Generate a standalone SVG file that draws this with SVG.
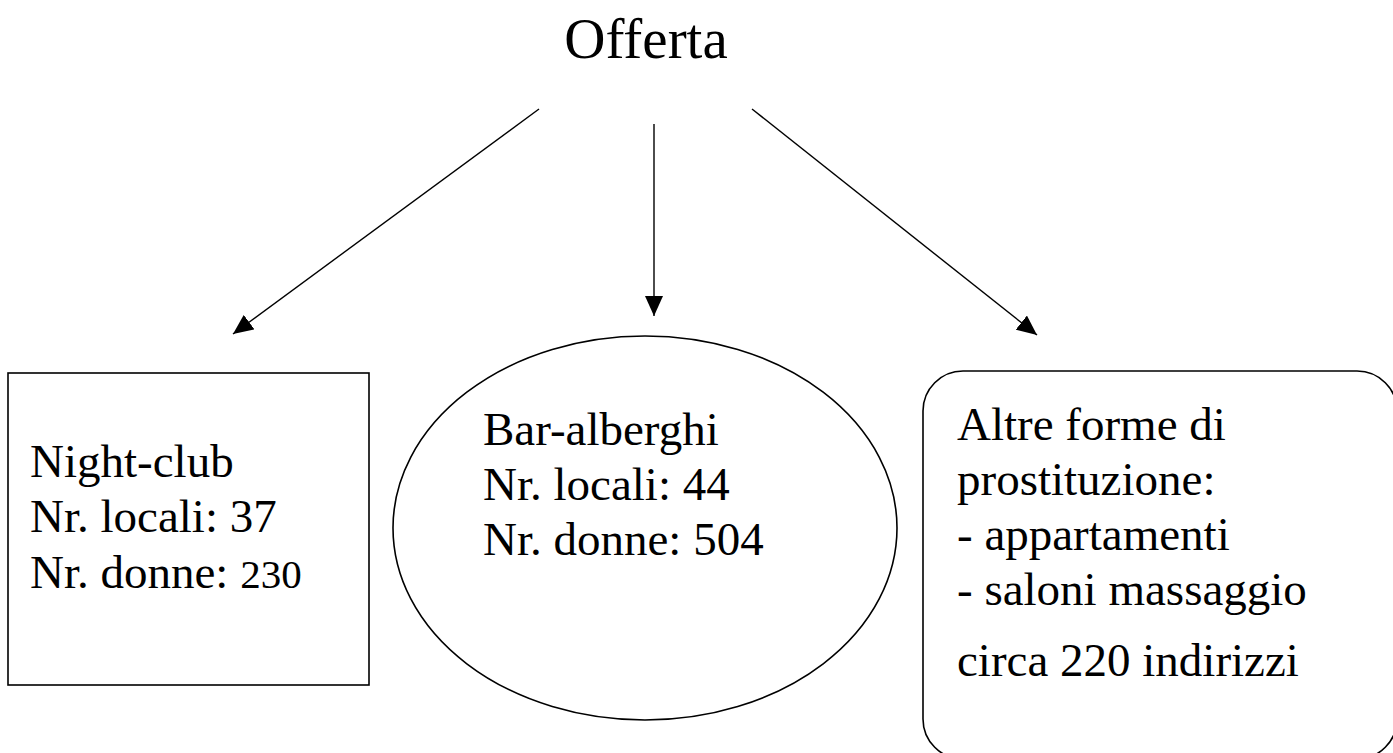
<svg xmlns="http://www.w3.org/2000/svg" width="1393" height="753" viewBox="0 0 1393 753">
<style>
  .t { font-family: "Liberation Serif", "Times New Roman", serif; font-size: 47px; fill: #000; }
  .shape { fill: #fff; stroke: #000; stroke-width: 1.6; }
  .conn { stroke: #000; stroke-width: 1.4; fill: none; marker-end: url(#ah); }
</style>
<defs>
  <marker id="ah" markerUnits="userSpaceOnUse" markerWidth="21" markerHeight="18" refX="20" refY="9" orient="auto" viewBox="0 0 21 18">
    <path d="M0,0 L20,9 L0,18 z" fill="#000"/>
  </marker>
</defs>
<rect x="0" y="0" width="1393" height="753" fill="#fff"/>
<g id="offerta">
  <text class="t" x="646" y="58" text-anchor="middle" style="font-size:57px">Offerta</text>
</g>
<g id="connectors">
  <line class="conn" x1="539" y1="109" x2="233" y2="334"/>
  <line class="conn" x1="654" y1="124" x2="654" y2="316"/>
  <line class="conn" x1="752" y1="109" x2="1037" y2="335"/>
</g>
<g id="nightclub">
  <rect class="shape" x="8" y="373" width="361" height="312"/>
  <text class="t" x="30" y="477">Night-club</text>
  <text class="t" x="30" y="532">Nr. locali: 37</text>
  <text class="t" x="30" y="588">Nr. donne: <tspan style="font-size:41px">230</tspan></text>
</g>
<g id="baralberghi">
  <ellipse class="shape" cx="645" cy="528" rx="252" ry="192"/>
  <text class="t" x="483" y="445">Bar-alberghi</text>
  <text class="t" x="483" y="500">Nr. locali: 44</text>
  <text class="t" x="483" y="555">Nr. donne: 504</text>
</g>
<g id="altre">
  <rect class="shape" x="923" y="371" width="474" height="388" rx="40" ry="40"/>
  <text class="t" x="957" y="440">Altre forme di</text>
  <text class="t" x="957" y="495">prostituzione:</text>
  <text class="t" x="957" y="550">- appartamenti</text>
  <text class="t" x="957" y="605">- saloni massaggio</text>
  <text class="t" x="957" y="676">circa 220 indirizzi</text>
</g>
</svg>
